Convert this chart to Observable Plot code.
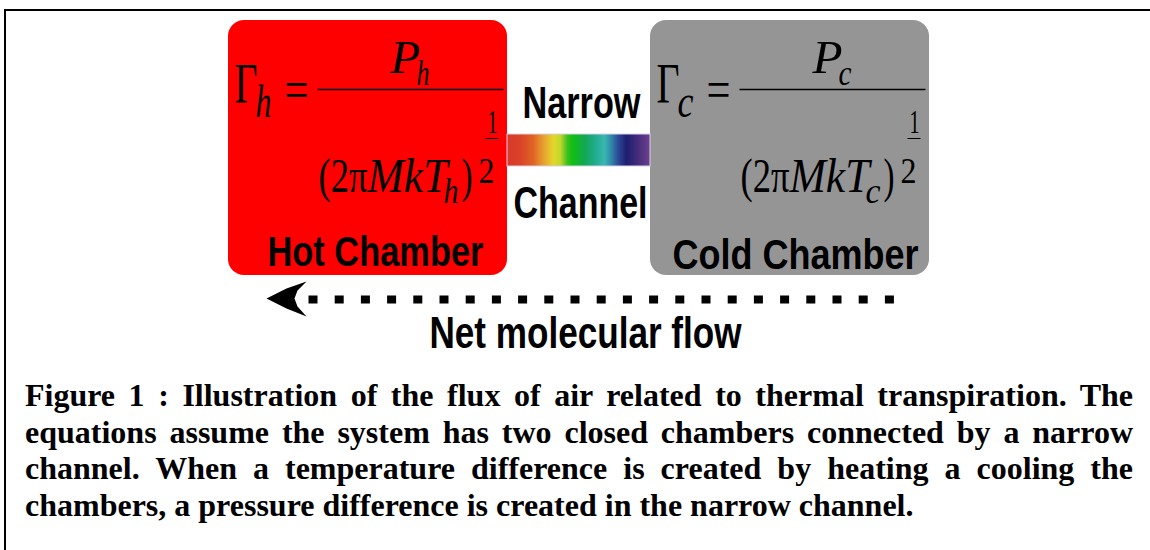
<!DOCTYPE html>
<html>
<head>
<meta charset="utf-8">
<script src="https://cdn.jsdelivr.net/npm/d3@7"></script>
<script src="https://cdn.jsdelivr.net/npm/@observablehq/plot@0.6"></script>
<style>
  html, body { margin: 0; padding: 0; background: #fff; }
  body { width: 1150px; height: 550px; overflow: hidden; position: relative; }
  #frame { position: absolute; left: 4px; top: 9px; width: 1200px; height: 600px;
           border-top: 2px solid #000; border-left: 2px solid #000; pointer-events: none; }
  #chart { position: absolute; left: 0; top: 0; }
  #chart svg { display: block; background: transparent; }
  #caption { position: absolute; left: 25px; top: 377px; width: 1108px;
             font-family: "Liberation Serif", "Times New Roman", serif; font-weight: bold;
             font-size: 32px; line-height: 36.7px; color: #000; }
  #caption .j { text-align: justify; text-align-last: justify; }
  #caption .l { text-align: left; }
</style>
</head>
<body>
<div id="chart"></div>
<div id="caption"></div>
<div id="frame"></div>
<script>
// ---------- data (texts, categories, colours) ----------
const chambers = ["Hot Chamber", "Cold Chamber"];
const chamberColors = ["#ff0000", "#959595"];
const subscripts = ["h", "c"];
const channelWords = ["Narrow", "Channel"];
const flowLabel = ["Net molecular flow"];
const rainbowColors = ["#d83a28", "#da4228", "#e06424", "#e8a030", "#e2d82a", "#c0d82a", "#40c020",
  "#10c010", "#12a850", "#20aa88", "#38b8b0", "#3088a8", "#2c4c98", "#1e1e70", "#3a2878", "#70408e"];
const rainbowOffsets = [0, 0.09, 0.184, 0.255, 0.326, 0.373, 0.421, 0.456, 0.539, 0.61, 0.681, 0.728, 0.775, 0.835, 0.894, 1];
const captionLines = [
  "Figure 1 : Illustration of the flux of air related to thermal transpiration. The",
  "equations assume the system has two closed chambers connected by a narrow",
  "channel. When a temperature difference is created by heating a cooling the",
  "chambers, a pressure difference is created in the narrow channel."
];

// ---------- layout (diagram units = px) ----------
const W = 1150, H = 377;
const boxLeft = [228, 650], boxRight = [507, 929], boxTop = 20, boxBottom = 275;
const chamberLabelPos = [{x: 267, y: 265, len: 216}, {x: 672, y: 268, len: 246}];
const channelPos = {x1: 507, x2: 650, y1: 134, y2: 166};
const channelWordPos = [{x: 522, y: 117, len: 118}, {x: 513, y: 217, len: 134}];
const flowPos = {x: 429, y: 347, len: 312};
const arrowY = 299, dashStart = 308, dashEnd = 894;
const arrowHead = [[266, 298], [286, 288], [306, 281], [297, 290], [294, 298], [297, 306], [306, 316], [286, 308], [266, 298]];

// equation template: offsets relative to a chamber's left edge
const eqTemplate = [
  {t: "\u0393", dx: 6, y: 102, size: 57, len: 23, it: false},
  {t: "SUB", dx: 27, y: 116, size: 46, len: 16, it: true},
  {t: "=", dx: 56, y: 107, size: 54, len: 24, it: false},
  {t: "P", dx: 162, y: 72, size: 47, len: 30, it: true},
  {t: "SUB", dx: 188, y: 84, size: 35, len: 13, it: true},
  {t: "(2\u03c0", dx: 90, y: 191, size: 48, len: 49, it: false},
  {t: "MkT", dx: 139, y: 191, size: 48, len: 80, it: true},
  {t: "SUB", dx: 215, y: 202, size: 35, len: 15, it: true},
  {t: ")", dx: 233, y: 191, size: 48, len: 11, it: false},
  {t: "2", dx: 250, y: 182, size: 35, len: 16, it: false},
  {t: "1", dx: 259, y: 132, size: 34, len: 10, it: false}
];
const eqRules = [
  {dx1: 89, dx2: 275, y: 89, w: 1.4},   // main fraction bar
  {dx1: 257, dx2: 270, y: 138, w: 1}    // exponent 1/2 bar
];

// ---------- build tables ----------
const boxes = chambers.map((name, i) => ({name, x1: boxLeft[i], x2: boxRight[i], y1: boxTop, y2: boxBottom, fill: chamberColors[i]}));
const labels = [
  ...chambers.map((t, i) => ({t, ...chamberLabelPos[i], size: 42})),
  ...channelWords.map((t, i) => ({t, ...channelWordPos[i], size: 44})),
  {t: flowLabel[0], ...flowPos, size: 45}
];
const eqPieces = [];
subscripts.forEach((s, i) => {
  eqTemplate.forEach(p => eqPieces.push({t: p.t === "SUB" ? s : p.t, x: boxLeft[i] + p.dx, y: p.y, size: p.size, len: p.len, it: p.it}));
});
const eqReg = eqPieces.filter(d => !d.it);
const eqIt = eqPieces.filter(d => d.it);
const rules = [];
boxLeft.forEach(L => eqRules.forEach(r => rules.push({x1: L + r.dx1, x2: L + r.dx2, y: r.y, w: r.w})));

const svg = Plot.plot({
  width: W, height: H,
  margin: 0,
  x: {domain: [0, W], range: [0, W], axis: null},
  y: {domain: [0, H], range: [0, H], axis: null},
  style: {background: "transparent"},
  marks: [
    Plot.rect(boxes, {x1: "x1", x2: "x2", y1: "y1", y2: "y2", fill: d => d.fill, rx: 16}),
    Plot.rect([channelPos], {x1: "x1", x2: "x2", y1: "y1", y2: "y2", fill: "url(#rainbow)", stroke: "#d9cfe8", strokeWidth: 1}),
    Plot.link(rules, {x1: "x1", x2: "x2", y1: "y", y2: "y", stroke: "#000", strokeWidth: d => d.w}),
    Plot.text(eqReg, {x: "x", y: "y", text: "t", fontSize: "size", textAnchor: "start", lineAnchor: "bottom",
      fontFamily: "Liberation Serif, Times New Roman, serif", fill: "#000"}),
    Plot.text(eqIt, {x: "x", y: "y", text: "t", fontSize: "size", textAnchor: "start", lineAnchor: "bottom",
      fontFamily: "Liberation Serif, Times New Roman, serif", fontStyle: "italic", fill: "#000"}),
    Plot.text(labels, {x: "x", y: "y", text: "t", fontSize: "size", textAnchor: "start", lineAnchor: "bottom",
      fontFamily: "Liberation Sans, Arial, sans-serif", fontWeight: "bold", fill: "#000"}),
    Plot.link([{x1: dashStart, x2: dashEnd, y: arrowY}], {x1: "x1", x2: "x2", y1: "y", y2: "y",
      stroke: "#000", strokeWidth: 8, strokeDasharray: "9 17.2", strokeLinecap: "butt"}),
    Plot.line(arrowHead, {x: d => d[0], y: d => d[1], fill: "#000", stroke: "none", curve: "linear"})
  ]
});

// gradient definition + fitted text widths
const s = d3.select(svg);
const grad = s.insert("defs", ":first-child").append("linearGradient")
  .attr("id", "rainbow").attr("x1", "0").attr("x2", "1").attr("y1", "0").attr("y2", "0");
rainbowColors.forEach((c, i) => grad.append("stop").attr("offset", rainbowOffsets[i]).attr("stop-color", c));
// texts are rendered in mark order: regular equation pieces, italic pieces, labels
const allPieces = [...eqReg, ...eqIt, ...labels];
s.selectAll("text").each(function (_, i) {
  const p = allPieces[i];
  if (p && this.textContent === p.t) {
    this.setAttribute("textLength", p.len);
    this.setAttribute("lengthAdjust", "spacingAndGlyphs");
  }
});
document.getElementById("chart").appendChild(svg);

const cap = d3.select("#caption");
captionLines.forEach((line, i) => cap.append("div").attr("class", i < captionLines.length - 1 ? "j" : "l").text(line));
</script>
</body>
</html>
